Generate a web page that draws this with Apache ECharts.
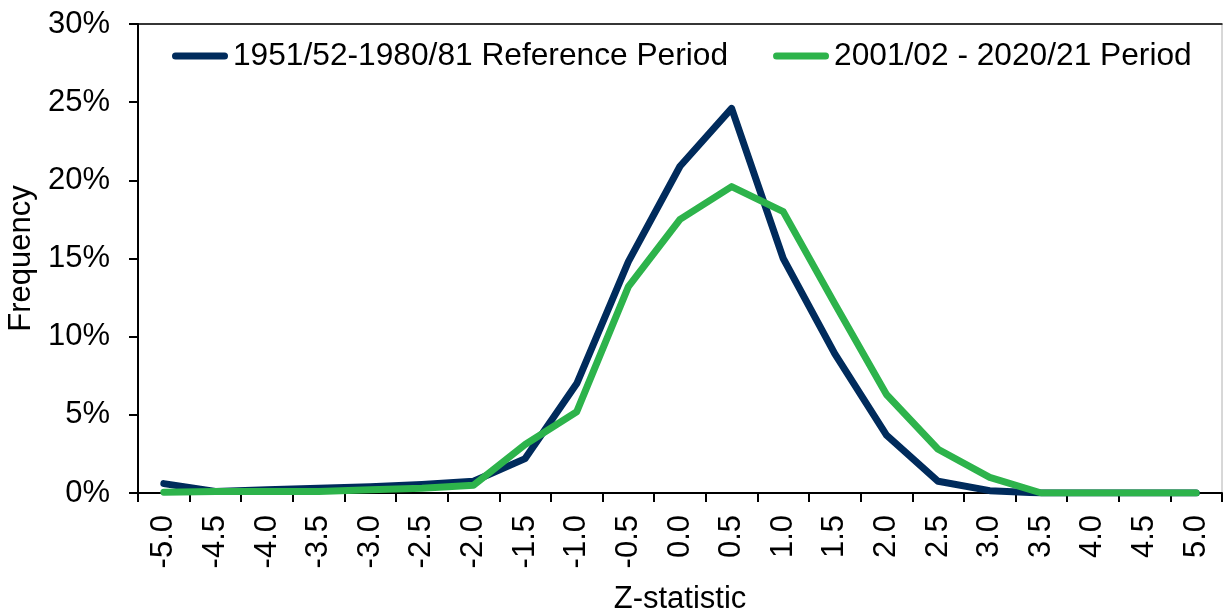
<!DOCTYPE html>
<html>
<head>
<meta charset="utf-8">
<script src="https://cdn.jsdelivr.net/npm/echarts@6/dist/echarts.min.js"></script>
<style>
  html, body { margin: 0; padding: 0; background: #fff; }
  #chart { width: 1223px; height: 613px; }
</style>
</head>
<body>
<div id="chart"></div>
<script>
const categories = ['-5.0', '-4.5', '-4.0', '-3.5', '-3.0', '-2.5', '-2.0', '-1.5', '-1.0', '-0.5',
  '0.0', '0.5', '1.0', '1.5', '2.0', '2.5', '3.0', '3.5', '4.0', '4.5', '5.0'];

// frequency in %
const referencePeriod = [0.6, 0.1, 0.2, 0.3, 0.4, 0.55, 0.75, 2.2, 7.0, 14.8,
  20.9, 24.6, 15.0, 8.9, 3.7, 0.75, 0.15, 0, 0, 0, 0];
const recentPeriod = [0.05, 0.1, 0.1, 0.1, 0.2, 0.3, 0.5, 3.1, 5.2, 13.2,
  17.5, 19.6, 18.0, 12.1, 6.3, 2.8, 1.0, 0, 0, 0, 0];

const seriesNames = ['1951/52-1980/81 Reference Period', '2001/02 - 2020/21 Period'];
const yTicks = [0, 5, 10, 15, 20, 25, 30];

const font = "'Liberation Sans', Arial, sans-serif";
// capsule shaped legend key, like a thick line with round caps
const legendKey = 'path://M3.5,0 H52.5 A3.5,3.5 0 0 1 52.5,7 H3.5 A3.5,3.5 0 0 1 3.5,0 Z';

const chart = echarts.init(document.getElementById('chart'));

const option = {
  backgroundColor: '#fff',
  animation: false,
  textStyle: { fontFamily: font, color: '#000' },
  grid: {
    left: 138,
    right: 1,
    top: 24,
    bottom: 120,
    outerBoundsMode: 'none',
    containLabel: false,
    show: true,
    borderColor: '#b0b0b0',
    borderWidth: 1,
  },
  legend: {
    data: seriesNames.map((n) => ({ name: n, icon: legendKey })),
    left: 172,
    top: 37,
    padding: 0,
    itemWidth: 56,
    itemHeight: 7,
    itemGap: 45,
    textStyle: { fontFamily: font, fontSize: 31.7, color: '#000', lineHeight: 38 },
  },
  xAxis: [
    {
      type: 'category',
      data: categories,
      boundaryGap: true,
      name: 'Z-statistic',
      nameLocation: 'middle',
      nameGap: 91,
      nameTextStyle: { fontFamily: font, fontSize: 31, color: '#000' },
      axisLine: { lineStyle: { color: '#000', width: 2 } },
      axisTick: { show: true, length: 9, alignWithLabel: false, lineStyle: { color: '#000', width: 2 } },
      axisLabel: {
        rotate: 90,
        margin: 22,
        interval: 0,
        fontFamily: font,
        fontSize: 31,
        color: '#000',
      },
      splitLine: { show: false },
    },
    {
      type: 'category',
      data: categories,
      position: 'top',
      axisLine: { lineStyle: { color: '#000', width: 1.5 } },
      axisTick: { show: false },
      axisLabel: { show: false },
    },
  ],
  yAxis: {
    type: 'value',
    min: yTicks[0],
    max: yTicks[yTicks.length - 1],
    interval: 5,
    name: 'Frequency',
    nameLocation: 'middle',
    nameGap: 100,
    nameTextStyle: { fontFamily: font, fontSize: 31, color: '#000' },
    axisLine: { show: true, lineStyle: { color: '#000', width: 2 } },
    axisTick: { show: true, length: 9, lineStyle: { color: '#000', width: 2 } },
    axisLabel: {
      margin: 28,
      fontFamily: font,
      fontSize: 31,
      color: '#000',
      formatter: (v) => v + '%',
    },
    splitLine: { show: false },
  },
  series: [
    {
      name: seriesNames[0],
      type: 'line',
      data: referencePeriod,
      symbol: 'none',
      color: '#002B5C',
      lineStyle: { width: 7, color: '#002B5C', cap: 'round', join: 'round' },
      z: 2,
    },
    {
      name: seriesNames[1],
      type: 'line',
      data: recentPeriod,
      symbol: 'none',
      color: '#2DB34B',
      lineStyle: { width: 7, color: '#2DB34B', cap: 'round', join: 'round' },
      z: 3,
    },
  ],
};

chart.setOption(option);
</script>
</body>
</html>
